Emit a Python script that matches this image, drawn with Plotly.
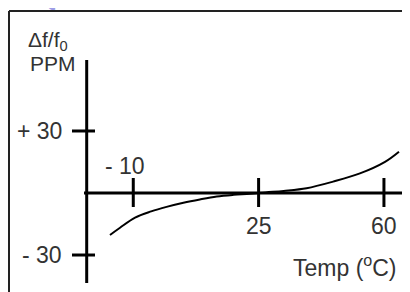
import plotly.graph_objects as go

# ---- data ----
temps = [-16.5, -13.7, -9.5, -5.0, -0.7, 4.0, 8.6, 13.3, 18.0, 22.6, 27.0, 32.0, 38.4, 45.8, 53.3, 60.3, 64.2]
ppm = [-20.3, -16.8, -11.9, -8.9, -6.7, -4.7, -3.1, -1.7, -0.9, -0.4, 0.3, 1.0, 2.3, 5.5, 9.5, 15.1, 20.0]

x_ticks = [-10, 25, 60]
x_tick_labels = ["- 10", "25", "60"]
y_ticks = [30, -30]
y_tick_labels = ["+ 30", "- 30"]

title_text = "FREQUENCY VS TEMPERATURE CURVE"
y_title = ["Δf/f<sub>0</sub>", "PPM"]
x_title = "Temp (<sup>o</sup>C)"

# ---- figure geometry ----
W, H = 410, 292
OFF = 8  # page body margin: page pixel = figure pixel + 8
KX, X25 = 3.581, 258.6 - OFF
KY, Y0 = 2.067, 193 - OFF
XR = [25 - X25 / KX, 25 + (W - X25) / KX]
YR = [(Y0 - H) / KY, Y0 / KY]

def tx(p):  # reference page pixel -> data x
    return 25 + (p - OFF - X25) / KX

def ty(p):  # reference page pixel -> data y
    return (Y0 - (p - OFF)) / KY

fig = go.Figure()
fig.add_trace(go.Scatter(x=temps, y=ppm, mode="lines",
                         line=dict(color="black", width=2, shape="spline", smoothing=1.0),
                         hoverinfo="skip", showlegend=False))

shapes = []
axc = "black"
shapes.append(dict(type="line", xref="x", yref="y", x0=tx(84), x1=tx(402), y0=0, y1=0,
                   line=dict(color=axc, width=3)))
y_axis_x = tx(86.7)
shapes.append(dict(type="line", xref="x", yref="y", x0=y_axis_x, x1=y_axis_x, y0=ty(60), y1=ty(283),
                   line=dict(color=axc, width=3)))
for t in x_ticks:
    shapes.append(dict(type="line", xref="x", yref="y", x0=t, x1=t, y0=ty(178), y1=ty(207),
                       line=dict(color=axc, width=3)))
for v in y_ticks:
    shapes.append(dict(type="line", xref="x", yref="y", x0=tx(72), x1=tx(95), y0=v, y1=v,
                       line=dict(color=axc, width=3)))
fx = 1 / W
fy = 1 - 3 / H
shapes.append(dict(type="line", xref="paper", yref="paper", x0=fx, x1=1.05, y0=fy, y1=fy,
                   line=dict(color="#222", width=2)))
shapes.append(dict(type="line", xref="paper", yref="paper", x0=fx, x1=fx, y0=fy, y1=-0.1,
                   line=dict(color="#222", width=2)))

tc = "#333"
fs = 23
FONT = "Liberation Sans, Arial, sans-serif"
ann = []
ann.append(dict(x=-12.3, y=ty(166), text=x_tick_labels[0], xanchor="center", yanchor="middle"))
ann.append(dict(x=x_ticks[1], y=ty(226), text=x_tick_labels[1], xanchor="center", yanchor="middle"))
ann.append(dict(x=x_ticks[2], y=ty(226), text=x_tick_labels[2], xanchor="center", yanchor="middle"))
for v, lab in zip(y_ticks, y_tick_labels):
    ann.append(dict(x=tx(64), y=v, text=lab, xanchor="right", yanchor="middle"))
ann.append(dict(x=tx(399), y=ty(266), text=x_title, xanchor="right", yanchor="middle"))
ann.append(dict(x=tx(27), y=ty(41), text=y_title[0], xanchor="left", yanchor="middle",
                font=dict(size=21), borderpad=0))
ann.append(dict(x=tx(52.5), y=ty(63), text=y_title[1], xanchor="center", yanchor="middle",
                font=dict(size=21), borderpad=0))
for a in ann:
    a.update(xref="x", yref="y", showarrow=False)
    f = dict(family=FONT, size=fs, color=tc)
    f.update(a.get("font", {}))
    a["font"] = f
# title, cut off at the top of the page
ann.append(dict(xref="paper", yref="paper", x=(203 - OFF) / W, y=1 + 9 / H, text="<b>" + title_text + "</b>",
                showarrow=False, xanchor="center", yanchor="middle",
                font=dict(family=FONT, size=21, color="#9c9ce6")))

fig.update_layout(
    width=W, height=H, margin=dict(l=0, r=0, t=0, b=0),
    paper_bgcolor="white", plot_bgcolor="white",
    xaxis=dict(range=XR, visible=False, fixedrange=True),
    yaxis=dict(range=YR, visible=False, fixedrange=True),
    shapes=shapes, annotations=ann, showlegend=False,
)
fig.write_html("out.html")
